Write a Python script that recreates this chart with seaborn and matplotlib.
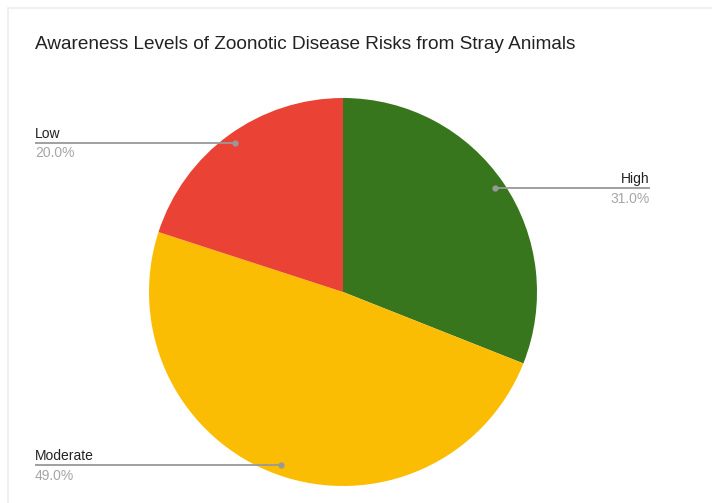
import numpy as np
import matplotlib
matplotlib.use("Agg")
import matplotlib.pyplot as plt
import seaborn as sns

# Awareness survey results
categories = ["High", "Moderate", "Low"]
shares = [31.0, 49.0, 20.0]
colors = ["#38761d", "#fbbc04", "#ea4335"]

sns.set_theme(style="white")
plt.rcParams["font.family"] = ["Liberation Sans", "DejaVu Sans"]
palette = sns.color_palette(colors)

W, H = 712, 503
fig = plt.figure(figsize=(W / 100, H / 100), dpi=100)
ax = fig.add_axes([0, 0, 1, 1])

# card outline (top and left edges)
ax.plot([8, W], [H - 8, H - 8], color="#ededed", lw=1.2)
ax.plot([8, 8], [0, H - 8], color="#ededed", lw=1.2)

cx, cy, r = 343, H - 292, 194
ax.pie(shares, colors=palette, startangle=90, counterclock=False,
       center=(cx, cy), radius=r, frame=True,
       wedgeprops=dict(linewidth=0))
ax.set_xlim(0, W)
ax.set_ylim(0, H)
ax.set_aspect("equal")
ax.axis("off")

ax.text(35, H - 44, "Awareness Levels of Zoonotic Disease Risks from Stray Animals",
        fontsize=13.7, color="#222222", va="center", ha="left")

# leader lines with labels
cum = np.cumsum([0] + shares)
for i, (name, val) in enumerate(zip(categories, shares)):
    mid = (cum[i] + val / 2) / 100 * 360
    ang = np.deg2rad(mid)
    px = cx + 0.95 * r * np.sin(ang)
    py = cy + 0.95 * r * np.cos(ang)
    if px > cx:
        xe, ha = 650, "right"
    else:
        xe, ha = 35, "left"
    ax.plot([px, xe], [py, py], color="#999999", lw=1.3, solid_capstyle="butt")
    ax.plot(px, py, "o", color="#999999", ms=3.5)
    ax.text(xe, py + 2, name, fontsize=10, color="#222222", ha=ha, va="bottom")
    ax.text(xe, py - 3.5, f"{val:.1f}%", fontsize=10, color="#a6a6a6", ha=ha, va="top")

fig.savefig("out.png", dpi=100)
